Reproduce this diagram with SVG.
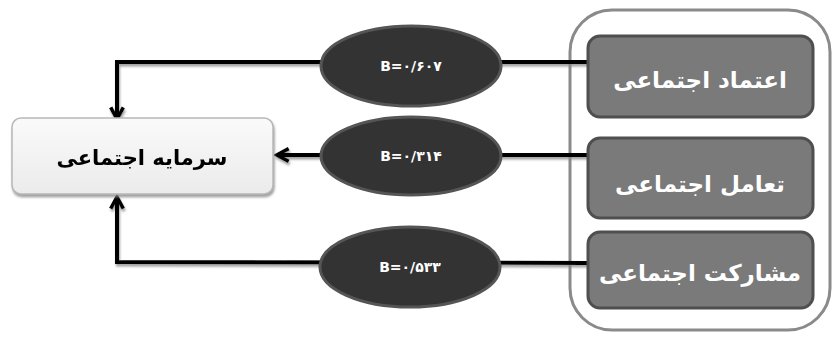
<svg xmlns="http://www.w3.org/2000/svg" width="837" height="339" viewBox="0 0 837 339">
<defs>
<style>
.outer{fill:#fff;stroke:#8a8a8a;stroke-width:3}
.box{fill:#7a7a7a;stroke:#4f4f4f;stroke-width:3}
.btxt{font-family:"DejaVu Sans",sans-serif;font-weight:bold;font-size:23px;fill:#fff;text-anchor:middle}
.ell{fill:#333;stroke:#555;stroke-width:3}
.etxt{font-family:"DejaVu Sans",sans-serif;font-weight:bold;font-size:14px;fill:#fff;text-anchor:middle}
.conn{fill:none;stroke:#000;stroke-width:4}
.tgt{stroke:#b8b8b8;stroke-width:1.5}
.ttxt{font-family:"DejaVu Sans",sans-serif;font-weight:bold;font-size:21px;fill:#000;text-anchor:middle}
</style>
<linearGradient id="lg" x1="0" y1="0" x2="0" y2="1">
<stop offset="0" stop-color="#fafafa"/>
<stop offset="1" stop-color="#ebebeb"/>
</linearGradient>
<filter id="sh" x="-5%" y="-20%" width="110%" height="140%">
<feDropShadow dx="1" dy="2.5" stdDeviation="0.8" flood-color="#888" flood-opacity="0.8"/>
</filter>
<marker id="arr" viewBox="0 0 12 12" refX="10" refY="6" markerWidth="12" markerHeight="12" markerUnits="userSpaceOnUse" orient="auto">
<path d="M2,1 L10,6 L2,11" fill="none" stroke="#000" stroke-width="3"/>
</marker>
<marker id="arrL" viewBox="0 0 20 20" refX="17" refY="10" markerWidth="18" markerHeight="18" markerUnits="userSpaceOnUse" orient="auto">
<path d="M4,3 L17,10 L4,17" fill="none" stroke="#000" stroke-width="4" stroke-linejoin="miter"/>
</marker>
</defs>
<rect width="837" height="339" fill="#fff"/>
<g id="container">
<rect class="outer" x="570" y="10" width="260" height="320" rx="42"/>
</g>
<g id="connectors" filter="url(#sh)">
<polyline class="conn" points="588,62 117,62 117,119" marker-end="url(#arrL)"/>
<polyline class="conn" points="588,155 277,155" marker-end="url(#arrL)"/>
<polyline class="conn" points="588,263 117,262 117,197" marker-end="url(#arrL)"/>
</g>
<g id="target" filter="url(#sh)">
<rect class="tgt" x="12" y="118" width="261" height="76" rx="9" fill="url(#lg)"/>
<text class="ttxt" x="142" y="165" direction="rtl">سرمایه اجتماعی</text>
</g>
<g id="e1">
<ellipse class="ell" cx="411" cy="66" rx="90" ry="40"/>
<text class="etxt" x="411" y="71" direction="ltr">B=۰/۶۰۷</text>
</g>
<g id="e2">
<ellipse class="ell" cx="411" cy="156" rx="90" ry="39"/>
<text class="etxt" x="411" y="161" direction="ltr">B=۰/۳۱۴</text>
</g>
<g id="e3">
<ellipse class="ell" cx="410" cy="267" rx="90" ry="40"/>
<text class="etxt" x="410" y="272" direction="ltr">B=۰/۵۳۳</text>
</g>
<g id="n1">
<rect class="box" x="588" y="36" width="225" height="81" rx="12"/>
<text class="btxt" x="700" y="88" direction="rtl">اعتماد اجتماعی</text>
</g>
<g id="n2">
<rect class="box" x="588" y="138" width="225" height="80" rx="12"/>
<text class="btxt" x="700" y="192" direction="rtl">تعامل اجتماعی</text>
</g>
<g id="n3">
<rect class="box" x="588" y="232" width="225" height="76" rx="12"/>
<text class="btxt" x="700" y="281" direction="rtl">مشارکت اجتماعی</text>
</g>
</svg>
